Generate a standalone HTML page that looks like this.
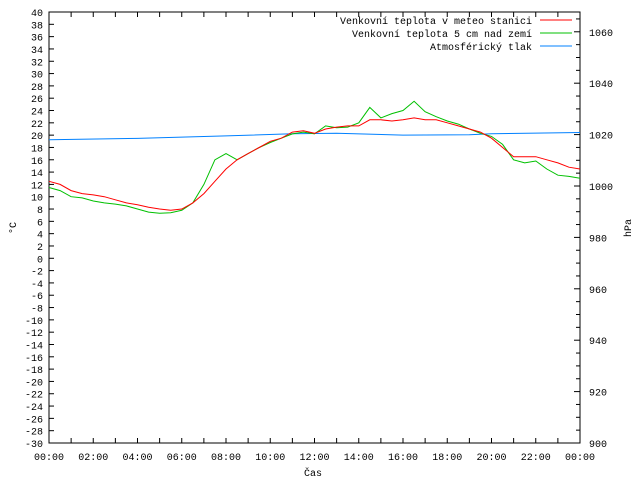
<!DOCTYPE html>
<html><head><meta charset="utf-8"><style>
body{margin:0;background:#fff}
svg{display:block;font-family:"Liberation Mono","DejaVu Sans Mono",monospace;font-size:10px}
</style></head><body>
<svg id="chart" width="640" height="480" viewBox="0 0 640 480" xmlns="http://www.w3.org/2000/svg">
<rect width="640" height="480" fill="#fff"/>
<g id="axes"></g>
<g id="series"></g>
<text x="313" y="476" text-anchor="middle">Čas</text>
<text x="16" y="228" text-anchor="middle" transform="rotate(-90 16 228)">°C</text>
<text x="631" y="228" text-anchor="middle" transform="rotate(-90 631 228)">hPa</text>
<g>
<text x="532" y="24" text-anchor="end">Venkovní teplota v meteo stanici</text>
<line x1="540" y1="20" x2="572" y2="20" stroke="#ff0000"/>
<text x="532" y="37" text-anchor="end">Venkovní teplota 5 cm nad zemí</text>
<line x1="540" y1="33" x2="572" y2="33" stroke="#00c000"/>
<text x="532" y="50" text-anchor="end">Atmosférický tlak</text>
<line x1="540" y1="46" x2="572" y2="46" stroke="#0080ff"/>
</g>
</svg>
<script>
const hours=[0,0.5,1,1.5,2,2.5,3,3.5,4,4.5,5,5.5,6,6.5,7,7.5,8,8.5,9,9.5,10,10.5,11,11.5,12,12.5,13,13.5,14,14.5,15,15.5,16,16.5,17,17.5,18,18.5,19,19.5,20,20.5,21,21.5,22,22.5,23,23.5,24];
const tempStation=[12.5,12,11,10.5,10.3,10,9.5,9,8.7,8.3,8,7.8,8,9,10.5,12.5,14.5,16,17,18,19,19.5,20.5,20.7,20.3,21,21.3,21.5,21.5,22.5,22.5,22.3,22.5,22.8,22.5,22.5,22,21.5,21,20.5,19.5,18,16.5,16.5,16.5,16,15.5,14.8,14.5];
const tempGround=[11.5,11,10,9.8,9.3,9,8.8,8.5,8,7.5,7.3,7.4,7.8,9,12,16,17,16,17,18,18.8,19.5,20.2,20.5,20.2,21.5,21.2,21.3,22,24.5,22.8,23.5,24,25.5,23.8,23,22.3,21.8,21,20.3,19.8,18.5,16,15.5,15.8,14.5,13.5,13.3,13];
const pHours=[0,4,8,11,13,16,19,20,22,24];
const pressure=[1018.0,1018.5,1019.5,1020.3,1020.5,1019.8,1019.9,1020.3,1020.6,1020.8];
const tempTicks=[-30,-28,-26,-24,-22,-20,-18,-16,-14,-12,-10,-8,-6,-4,-2,0,2,4,6,8,10,12,14,16,18,20,22,24,26,28,30,32,34,36,38,40];
const pressTicks=[900,920,940,960,980,1000,1020,1040,1060];
const timeTicks=["00:00","02:00","04:00","06:00","08:00","10:00","12:00","14:00","16:00","18:00","20:00","22:00","00:00"];

const L=49,R=580,T=12,B=443;
const xS=h=>L+h*(R-L)/24;
const yT=v=>B-(v+30)*(B-T)/70;
const yP=p=>B-(p-900)*(B-T)/167.7;
const NS="http://www.w3.org/2000/svg";
const ax=document.getElementById('axes'), se=document.getElementById('series');
function mk(t,a,p){const e=document.createElementNS(NS,t);for(const k in a)e.setAttribute(k,a[k]);p.appendChild(e);return e;}
const frame=mk('rect',{x:L,y:T,width:R-L,height:B-T,fill:'none',stroke:'#000'},ax);


tempTicks.forEach(v=>{const y=yT(v);
 const l=mk('line',{x1:L,y1:y,x2:L+5,y2:y,stroke:'#000'},ax);
 
 
 const t=mk('text',{x:L-6,y:y+4,'text-anchor':'end'},ax);t.textContent=v;
 
 
});
for(let p=900;p<=1065;p+=5){const y=yP(p);
 const l=mk('line',{x1:R-(p%20==0?6:4),y1:y,x2:R,y2:y,stroke:'#000'},ax);
 
 
}
pressTicks.forEach(p=>{const t=mk('text',{x:R+9,y:yP(p)+4},ax);t.textContent=p;
 
 
});
for(let h=1;h<24;h++){const x=xS(h);
 mk('line',{x1:x,y1:B,x2:x,y2:B-5,stroke:'#000'},ax);
 mk('line',{x1:x,y1:T,x2:x,y2:T+5,stroke:'#000'},ax);
}
timeTicks.forEach((s,i)=>{const t=mk('text',{x:xS(i*2),y:460,'text-anchor':'middle'},ax);t.textContent=s;
 
 
});
function line(xs,ys,fy,col,name){
 const pts=xs.map((h,i)=>xS(h).toFixed(1)+','+fy(ys[i]).toFixed(1)).join(' ');
 const p=mk('polyline',{points:pts,fill:'none',stroke:col,'stroke-width':1},se);
 
 
}
line(pHours,pressure,yP,'#0080ff','line-pressure');
line(hours,tempGround,yT,'#00c000','line-temp-ground');
line(hours,tempStation,yT,'#ff0000','line-temp-station');
</script>
</body></html>
